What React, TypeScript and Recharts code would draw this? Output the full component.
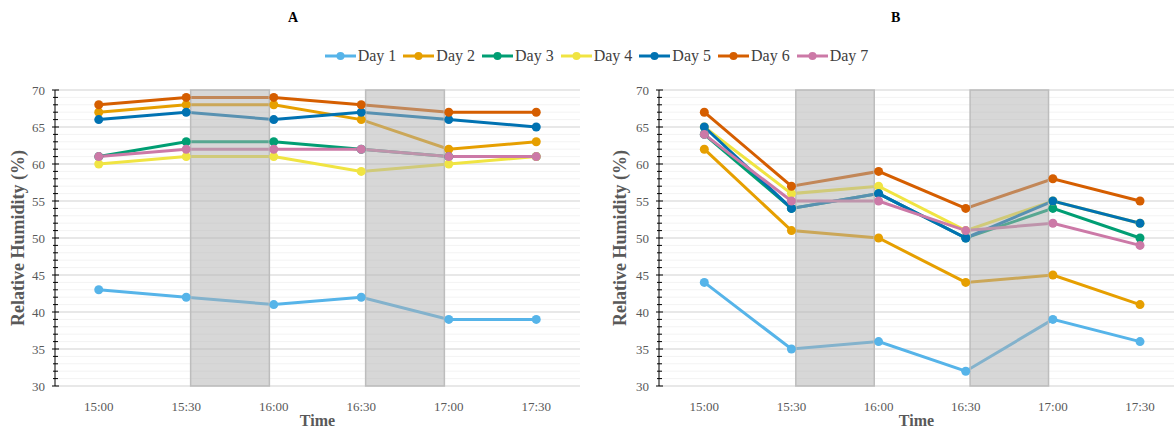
import React from "react";
import { LineChart, Line, XAxis, YAxis, CartesianGrid, ReferenceArea, Legend } from "recharts";

// time slots on the x axis
const times = ["15:00", "15:30", "16:00", "16:30", "17:00", "17:30"];
const dayNames = ["Day 1", "Day 2", "Day 3", "Day 4", "Day 5", "Day 6", "Day 7"];
const dayColors = ["#56B4E9", "#E69F00", "#009E73", "#F0E442", "#0072B2", "#D55E00", "#CC79A7"];

// panel A – relative humidity (%)
const aDay1 = [43, 42, 41, 42, 39, 39];
const aDay2 = [67, 68, 68, 66, 62, 63];
const aDay3 = [61, 63, 63, 62, 61, 61];
const aDay4 = [60, 61, 61, 59, 60, 61];
const aDay5 = [66, 67, 66, 67, 66, 65];
const aDay6 = [68, 69, 69, 68, 67, 67];
const aDay7 = [61, 62, 62, 62, 61, 61];

// panel B – relative humidity (%)
const bDay1 = [44, 35, 36, 32, 39, 36];
const bDay2 = [62, 51, 50, 44, 45, 41];
const bDay3 = [64, 54, 56, 50, 54, 50];
const bDay4 = [65, 56, 57, 51, 55, 52];
const bDay5 = [65, 54, 56, 50, 55, 52];
const bDay6 = [67, 57, 59, 54, 58, 55];
const bDay7 = [64, 55, 55, 51, 52, 49];

// shaded intervals (in time-slot units)
const shadeRanges = [
  [1.05, 1.95],
  [3.05, 3.95],
];

const majorTicks = [30, 35, 40, 45, 50, 55, 60, 65, 70];
const allTicks = Array.from({ length: 41 }, (_, i) => 30 + i);
const xTicks = times.map((_, i) => i);

const FONT = "'Liberation Serif', 'Times New Roman', serif";

const buildRows = (series: number[][]) =>
  times.map((t, i) => {
    const row: Record<string, number | string> = { idx: i, time: t };
    dayNames.forEach((d, k) => {
      row[d] = series[k][i];
    });
    return row;
  });

const dataA = buildRows([aDay1, aDay2, aDay3, aDay4, aDay5, aDay6, aDay7]);
const dataB = buildRows([bDay1, bDay2, bDay3, bDay4, bDay5, bDay6, bDay7]);

const YTick = (props: any) => {
  const { x, y, payload } = props;
  const major = payload.value % 5 === 0;
  return (
    <g>
      <line
        x1={major ? x - 3 : x - 2}
        x2={major ? x + 4 : x + 3}
        y1={y}
        y2={y}
        stroke="#000"
        strokeWidth={1}
      />
      {major && (
        <text x={x - 10} y={y} dy={4.5} textAnchor="end" fontSize={13} fill="#595959" fontFamily={FONT}>
          {payload.value}
        </text>
      )}
    </g>
  );
};

const renderLegend = (props: any) => (
  <div
    style={{
      display: "flex",
      justifyContent: "center",
      whiteSpace: "nowrap",
      fontFamily: FONT,
      fontSize: 16,
      color: "#404040",
    }}
  >
    {props.payload.map((entry: any) => (
      <span
        key={entry.value}
        style={{ display: "inline-flex", alignItems: "center", flexShrink: 0, marginRight: 7 }}
      >
        <svg width={31} height={10}>
          <line x1={0} x2={31} y1={5} y2={5} stroke={entry.color} strokeWidth={3} />
          <circle cx={15.5} cy={5} r={4} fill={entry.color} />
        </svg>
        <span style={{ marginLeft: 2 }}>{entry.value}</span>
      </span>
    ))}
  </div>
);

interface PanelProps {
  data: Record<string, number | string>[];
  width: number;
  axisWidth: number;
  domain: [number, number];
  right: number;
  labelOffset: number;
  showLegend?: boolean;
}

const Panel = ({ data, width, axisWidth, domain, right, labelOffset, showLegend }: PanelProps) => (
  <LineChart width={width} height={430} data={data} margin={{ top: 90, right, bottom: 0, left: 0 }}>
    <CartesianGrid vertical={false} stroke="#f3f3f3" strokeWidth={1} />
    <CartesianGrid vertical={false} horizontalValues={majorTicks} stroke="#e2e2e2" strokeWidth={1.5} />
    <XAxis
      type="number"
      dataKey="idx"
      domain={domain}
      ticks={xTicks}
      interval={0}
      allowDataOverflow
      tickFormatter={(v: number) => times[v]}
      axisLine={false}
      tickLine={false}
      tickMargin={10}
      height={44}
      tick={{ fontSize: 13, fill: "#595959", fontFamily: FONT }}
      label={{
        value: "Time",
        position: "insideBottom",
        offset: 4,
        style: { fontSize: 16, fontWeight: "bold", fill: "#595959", fontFamily: FONT },
      }}
    />
    <YAxis
      width={axisWidth}
      domain={[30, 70]}
      ticks={allTicks}
      interval={0}
      tickSize={0}
      tickMargin={0}
      tickLine={false}
      axisLine={{ stroke: "#000", strokeWidth: 1 }}
      tick={<YTick />}
      label={{
        value: "Relative Humidity (%)",
        angle: -90,
        position: "insideLeft",
        offset: labelOffset,
        style: { textAnchor: "middle", fontSize: 18, fontWeight: "bold", fill: "#595959", fontFamily: FONT },
      }}
    />
    {dayNames.map((d, k) => (
      <Line
        key={d}
        type="linear"
        dataKey={d}
        stroke={dayColors[k]}
        strokeWidth={3}
        dot={{ r: 4.5, fill: dayColors[k], stroke: dayColors[k], strokeWidth: 0 }}
        activeDot={false}
        isAnimationActive={false}
      />
    ))}
    {shadeRanges.map(([x1, x2]) => (
      <ReferenceArea
        key={x1}
        x1={x1}
        x2={x2}
        y1={30}
        y2={70}
        zIndex={450}
        fill="#b0b0b0"
        fillOpacity={0.5}
        stroke="#bdbdbd"
        strokeWidth={1.5}
      />
    ))}
    {showLegend && (
      <Legend
        layout="horizontal"
        verticalAlign="middle"
        align="center"
        content={renderLegend}
        wrapperStyle={{ left: 320, top: 47, width: 560 }}
      />
    )}
  </LineChart>
);

const titleStyle: React.CSSProperties = {
  position: "absolute",
  top: 10,
  fontFamily: FONT,
  fontWeight: "bold",
  fontSize: 14,
  color: "#000",
};

export default function App() {
  return (
    <div style={{ position: "absolute", left: 0, top: 0, width: 1174, height: 430, background: "#fff" }}>
      <div style={{ position: "absolute", left: 0, top: 0 }}>
        <Panel data={dataA} width={590} axisWidth={55} domain={[-0.5, 5.5]} right={10} labelOffset={18} showLegend />
      </div>
      <div style={{ position: "absolute", left: 600, top: 0 }}>
        <Panel data={dataB} width={574} axisWidth={59} domain={[-0.52, 5.39]} right={0} labelOffset={20} />
      </div>
      <div style={{ ...titleStyle, left: 288 }}>A</div>
      <div style={{ ...titleStyle, left: 891 }}>B</div>
    </div>
  );
}
